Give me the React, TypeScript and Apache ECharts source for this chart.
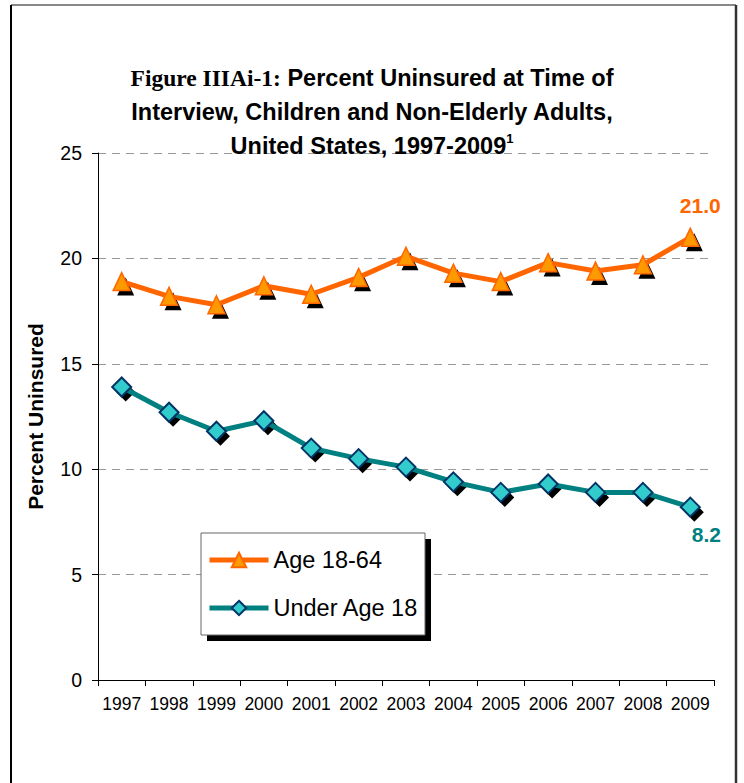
import React, { useEffect, useRef } from "react";
import * as echarts from "echarts";

const years = ["1997", "1998", "1999", "2000", "2001", "2002", "2003", "2004", "2005", "2006", "2007", "2008", "2009"];
const adults = [18.9, 18.2, 17.8, 18.7, 18.3, 19.1, 20.1, 19.3, 18.9, 19.8, 19.4, 19.7, 21.0];
const children = [13.9, 12.7, 11.8, 12.3, 11.0, 10.5, 10.1, 9.4, 8.9, 9.3, 8.9, 8.9, 8.2];
const seriesNames = ["Age 18-64", "Under Age 18"];
const yMin = 0;
const yMax = 25;
const yStep = 5;

const SANS = "'Liberation Sans', Arial, sans-serif";
const SERIF = "'Liberation Serif', 'DejaVu Serif', serif";

export default function App() {
  const ref = useRef<HTMLDivElement>(null);
  useEffect(() => {
    if (!ref.current) return;
    const chart = echarts.init(ref.current, null, { renderer: "svg" });
    const last = years.length - 1;
    const labelled = (arr: number[], label: any) =>
      arr.map((v, i) => (i === last ? { value: v, label: { show: true, ...label } } : v));

    chart.setOption({
      animation: false,
      backgroundColor: "#ffffff",
      title: {
        text: "{s|Figure IIIAi-1:} Percent Uninsured at Time of\nInterview, Children and Non-Elderly Adults,\nUnited States, 1997-2009{sup|1}",
        left: "center",
        top: 61,
        padding: 0,
        textStyle: {
          fontFamily: SANS,
          fontWeight: "bold",
          fontSize: 23.5,
          lineHeight: 34,
          color: "#000",
          rich: {
            s: { fontFamily: SERIF, fontWeight: "bold", fontSize: 23.5, lineHeight: 34, color: "#000" },
            sup: { fontFamily: SANS, fontWeight: "bold", fontSize: 13, padding: [0, 0, 15, 0], color: "#000" },
          },
        },
      },
      graphic: [
        { type: "line", shape: { x1: 11, y1: 5, x2: 736, y2: 5 }, style: { stroke: "#888", lineWidth: 2 } },
        { type: "line", shape: { x1: 11, y1: 5, x2: 11, y2: 800 }, style: { stroke: "#000", lineWidth: 2 } },
        { type: "line", shape: { x1: 736, y1: 5, x2: 736, y2: 800 }, style: { stroke: "#333", lineWidth: 2.5 } },
        { type: "rect", z: 3, shape: { x: 207, y: 539, width: 224, height: 102 }, style: { fill: "#000" } },
        { type: "rect", z: 3, shape: { x: 201, y: 533, width: 224, height: 102 }, style: { fill: "#fff", stroke: "#666", lineWidth: 1 } },
      ],
      legend: {
        data: seriesNames,
        orient: "vertical",
        left: 207,
        top: 548,
        padding: 0,
        itemGap: 24,
        itemWidth: 59,
        itemHeight: 18,
        z: 5,
        lineStyle: { width: 5 },
        textStyle: { fontFamily: SANS, fontSize: 23.5, lineHeight: 24, color: "#000" },
      },
      grid: { left: 98, right: 30, top: 153, bottom: 103, containLabel: false },
      xAxis: {
        type: "category",
        data: years,
        boundaryGap: true,
        axisLine: { lineStyle: { color: "#000", width: 1 } },
        axisTick: { show: true, length: 6, interval: 0, lineStyle: { color: "#000" } },
        axisLabel: { interval: 0, margin: 15, fontFamily: SANS, fontSize: 17.5, color: "#000" },
      },
      yAxis: {
        type: "value",
        min: yMin,
        max: yMax,
        interval: yStep,
        name: "Percent Uninsured",
        nameLocation: "middle",
        nameRotate: 90,
        nameGap: 52,
        nameTextStyle: { fontFamily: SANS, fontWeight: "bold", fontSize: 21, color: "#000" },
        axisLine: { show: true, lineStyle: { color: "#000", width: 1 } },
        axisTick: { show: true, length: 6, lineStyle: { color: "#000" } },
        axisLabel: { margin: 16, fontFamily: SANS, fontSize: 19.5, color: "#000" },
        splitLine: { show: true, lineStyle: { color: "#999", type: [8, 6], width: 1 } },
      },
      series: [
        {
          name: "shadowA",
          type: "line",
          data: adults,
          symbol: "triangle",
          symbolSize: [17, 18],
          symbolOffset: [4, 5],
          showAllSymbol: true,
          lineStyle: { opacity: 0, width: 0 },
          itemStyle: { color: "#000", borderWidth: 0 },
          silent: true,
          z: 2,
        },
        {
          name: "shadowC",
          type: "line",
          data: children,
          symbol: "diamond",
          symbolSize: 19,
          symbolOffset: [4, 5],
          showAllSymbol: true,
          lineStyle: { opacity: 0, width: 0 },
          itemStyle: { color: "#000", borderWidth: 0 },
          silent: true,
          z: 2,
        },
        {
          name: seriesNames[0],
          type: "line",
          data: labelled(adults, {
            position: "top",
            distance: 12,
            offset: [10, 0],
            formatter: (p: any) => Number(p.value).toFixed(1),
            fontFamily: SANS,
            fontWeight: "bold",
            fontSize: 21,
            color: "#ff6600",
          }),
          symbol: "triangle",
          symbolSize: [17, 18],
          showAllSymbol: true,
          lineStyle: { color: "#ff6600", width: 5 },
          itemStyle: { color: "#ff9900", borderColor: "#ff6600", borderWidth: 1.5 },
          z: 3,
        },
        {
          name: seriesNames[1],
          type: "line",
          data: labelled(children, {
            position: "bottom",
            distance: 6,
            offset: [16, 0],
            formatter: (p: any) => Number(p.value).toFixed(1),
            fontFamily: SANS,
            fontWeight: "bold",
            fontSize: 21,
            color: "#008080",
          }),
          symbol: "diamond",
          symbolSize: 19,
          showAllSymbol: true,
          lineStyle: { color: "#008080", width: 5 },
          itemStyle: { color: "#33cccc", borderColor: "#003366", borderWidth: 2 },
          z: 3,
        },
      ],
    });
    return () => chart.dispose();
  }, []);

  return <div ref={ref} style={{ position: "absolute", left: 0, top: 0, width: 744, height: 783 }} />;
}
